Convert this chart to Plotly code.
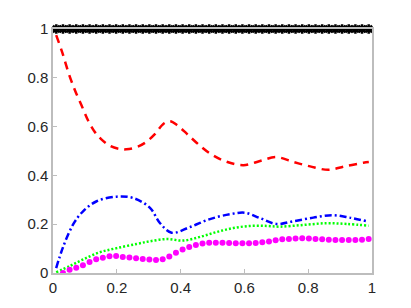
import plotly.graph_objects as go

# shared sample grid for markers (48 cells, midpoints)
n_grid = 48
grid_x = [(k + 0.5) / n_grid for k in range(n_grid)]

black_y = [1.0] * n_grid

red_x = [0.01, 0.03, 0.05, 0.07, 0.09, 0.11, 0.13, 0.15, 0.18, 0.21, 0.23, 0.26, 0.29,
         0.32, 0.345, 0.367, 0.39, 0.42, 0.45, 0.49, 0.54, 0.597, 0.649, 0.70, 0.753,
         0.806, 0.863, 0.915, 0.973, 0.99]
red_y = [0.975, 0.90, 0.815, 0.745, 0.685, 0.625, 0.58, 0.55, 0.52, 0.508, 0.507, 0.515, 0.535,
         0.57, 0.61, 0.622, 0.605, 0.57, 0.534, 0.492, 0.458, 0.442, 0.459, 0.475, 0.455,
         0.437, 0.423, 0.437, 0.452, 0.455]

blue_x = [0.01, 0.032, 0.064, 0.095, 0.137, 0.2, 0.252, 0.304, 0.335, 0.372, 0.429, 0.492,
          0.555, 0.602, 0.649, 0.70, 0.753, 0.816, 0.874, 0.93, 0.99]
blue_y = [0.02, 0.108, 0.201, 0.254, 0.294, 0.313, 0.307, 0.267, 0.205, 0.165, 0.188, 0.221,
          0.241, 0.247, 0.225, 0.201, 0.212, 0.227, 0.237, 0.227, 0.21]

green_x = [0.01, 0.053, 0.095, 0.147, 0.2, 0.262, 0.304, 0.356, 0.408, 0.461, 0.513, 0.565,
           0.618, 0.67, 0.712, 0.785, 0.858, 0.92, 0.99]
green_y = [0.003, 0.029, 0.056, 0.085, 0.102, 0.119, 0.13, 0.139, 0.133, 0.148, 0.168, 0.184,
           0.193, 0.193, 0.19, 0.197, 0.204, 0.201, 0.194]

magenta_y = [None, 0.0, 0.013, 0.022, 0.032, 0.045, 0.056, 0.063, 0.069, 0.070, 0.066, 0.064,
             0.060, 0.057, 0.055, 0.053, 0.056, 0.068, 0.083, 0.096, 0.107, 0.115, 0.121, 0.124,
             0.124, 0.124, 0.123, 0.122, 0.122, 0.122, 0.123, 0.126, 0.129, 0.134, 0.138, 0.139,
             0.141, 0.142, 0.141, 0.139, 0.138, 0.136, 0.135, 0.135, 0.135, 0.135, 0.136, 0.139]

tick_vals = [0, 0.2, 0.4, 0.6, 0.8, 1]
tick_text = ["0", "0.2", "0.4", "0.6", "0.8", "1"]

fig = go.Figure()
fig.add_trace(go.Scatter(x=red_x, y=red_y, mode="lines",
                         line=dict(color="#ff0000", width=2.5, dash="8px,6px", shape="spline")))
fig.add_trace(go.Scatter(x=blue_x, y=blue_y, mode="lines",
                         line=dict(color="#0000ff", width=2.5, dash="7px,3px,2px,3px", shape="spline")))
fig.add_trace(go.Scatter(x=green_x, y=green_y, mode="lines",
                         line=dict(color="#00ff00", width=2.5, dash="2px,2px", shape="spline")))
fig.add_trace(go.Scatter(x=grid_x, y=magenta_y, mode="markers",
                         marker=dict(color="#ff00ff", size=6, symbol="circle")))
fig.add_trace(go.Scatter(x=grid_x, y=black_y, mode="lines+markers",
                         line=dict(color="#000000", width=2),
                         marker=dict(color="#000000", size=8, symbol="asterisk-open",
                                     line=dict(color="#000000", width=2.5)),
                         cliponaxis=False))

axis_common = dict(range=[0, 1], tickvals=tick_vals, ticktext=tick_text,
                   showgrid=False, zeroline=False, showline=True, mirror=True,
                   linecolor="#bdbdbd", linewidth=1.5, ticks="inside", ticklen=4,
                   tickcolor="#bdbdbd", tickfont=dict(family="Liberation Sans, Arial", size=15,
                                                      color="#262626"))
fig.update_xaxes(**axis_common)
fig.update_yaxes(**axis_common)
fig.update_layout(width=403, height=300, showlegend=False,
                  margin=dict(l=45, r=39, t=14, b=34),
                  plot_bgcolor="white", paper_bgcolor="white")
fig.write_html("out.html")
